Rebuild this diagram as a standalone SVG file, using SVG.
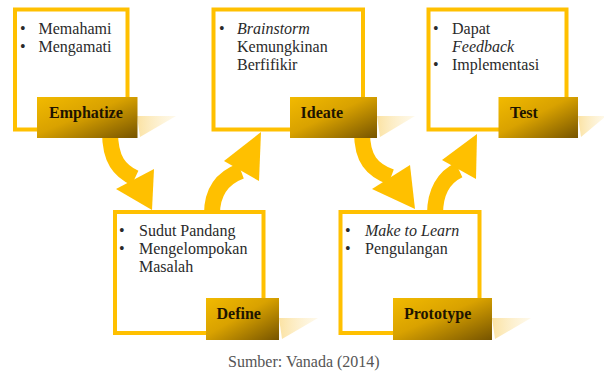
<svg xmlns="http://www.w3.org/2000/svg" width="604" height="375" viewBox="0 0 604 375" font-family="'Liberation Serif', 'Times New Roman', 'DejaVu Serif', serif">
<defs>
<linearGradient id="lg" x1="0" y1="0" x2="1" y2="1">
<stop offset="0" stop-color="#F2BA00"/>
<stop offset="0.45" stop-color="#D9A200"/>
<stop offset="1" stop-color="#765400"/>
</linearGradient>
<linearGradient id="sh" x1="0" y1="0" x2="1" y2="0">
<stop offset="0" stop-color="#FADB8C" stop-opacity="0.8"/>
<stop offset="1" stop-color="#FDF0CC" stop-opacity="0.4"/>
</linearGradient>
<style>
.box{fill:#fff;stroke:#FFC000;stroke-width:4}
.lab{fill:url(#lg)}
.shd{fill:url(#sh)}
.lt{font-weight:bold;font-size:16px;fill:#1E1400}
.bt{font-size:16px;fill:#2a2a2a}
.it{font-style:italic}
.shaft{fill:none;stroke:#FFC000;stroke-width:16}
.head{fill:#FFC000}
.cap{font-size:16px;fill:#555}
</style>
</defs>
<rect width="604" height="375" fill="#fff"/>
<g id="connectors">
<path class="shaft" d="M110,132 C110,160 120,171 135,178"/>
<polygon class="head" points="116,189 154,169 152,210"/>
<path class="shaft" d="M212,214 C212,192 222,178 241,171"/>
<polygon class="head" points="224,161 259,181 261,132"/>
<path class="shaft" d="M362,132 C362,159 372,170 391,177"/>
<polygon class="head" points="372,189 410,165 415,209"/>
<path class="shaft" d="M435,214 C435,192 444,177 459,170"/>
<polygon class="head" points="442,160 476,179 477,134"/>
</g>
<g id="emphatize">
<rect class="box" x="15" y="9.5" width="112.5" height="120"/>
<text class="bt" x="20" y="34">•</text><text class="bt" x="38.5" y="34">Memahami</text>
<text class="bt" x="20" y="52">•</text><text class="bt" x="38.5" y="52">Mengamati</text>
<polygon class="shd" points="137,116 176,116 140,137"/>
<rect class="lab" x="37" y="97" width="100.5" height="41"/>
<text class="lt" x="49" y="118">Emphatize</text>
</g>
<g id="ideate">
<rect class="box" x="213.5" y="9.5" width="149.5" height="120"/>
<text class="bt" x="219" y="34">•</text><text class="bt it" x="237" y="34">Brainstorm</text>
<text class="bt" x="237" y="52">Kemungkinan</text>
<text class="bt" x="237" y="70">Berfifikir</text>
<polygon class="shd" points="377,116 415,116 380,137"/>
<rect class="lab" x="290" y="97" width="87" height="41"/>
<text class="lt" x="300.5" y="118">Ideate</text>
</g>
<g id="test">
<rect class="box" x="428.5" y="9.5" width="138" height="120"/>
<text class="bt" x="433" y="34">•</text><text class="bt" x="452" y="34">Dapat</text>
<text class="bt it" x="452" y="52">Feedback</text>
<text class="bt" x="433" y="70">•</text><text class="bt" x="452" y="70">Implementasi</text>
<polygon class="shd" points="578,116 606,116 581,137"/>
<rect class="lab" x="498.5" y="97" width="79.5" height="41"/>
<text class="lt" x="510" y="118">Test</text>
</g>
<g id="define">
<rect class="box" x="115" y="212" width="148.5" height="121"/>
<text class="bt" x="119" y="236">•</text><text class="bt" x="139" y="236">Sudut Pandang</text>
<text class="bt" x="119" y="254">•</text><text class="bt" x="139" y="254">Mengelompokan</text>
<text class="bt" x="139" y="272">Masalah</text>
<polygon class="shd" points="279,318 318,318 282,339"/>
<rect class="lab" x="206" y="298" width="73" height="42"/>
<text class="lt" x="216.5" y="319">Define</text>
</g>
<g id="prototype">
<rect class="box" x="340.5" y="212" width="139" height="121"/>
<text class="bt" x="345" y="236">•</text><text class="bt it" x="365" y="236">Make to Learn</text>
<text class="bt" x="345" y="254">•</text><text class="bt" x="365" y="254">Pengulangan</text>
<polygon class="shd" points="492,318 531,318 495,339"/>
<rect class="lab" x="393" y="298" width="99" height="42"/>
<text class="lt" x="404" y="319">Prototype</text>
</g>
<text class="cap" x="228" y="367">Sumber: Vanada (2014)</text>
</svg>
